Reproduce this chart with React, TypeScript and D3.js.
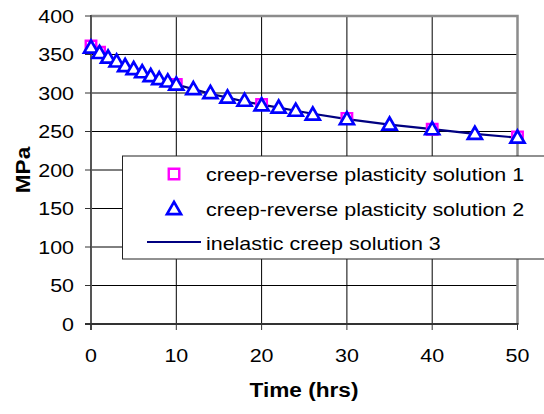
import React, { useEffect, useRef } from 'react'
import * as d3 from 'd3'

// series
const times1 = [0, 1, 10, 20, 30, 40, 50]
const solution1 = [361, 353, 311, 285, 267, 253, 243]

const times2 = [0, 1, 2, 3, 4, 5, 6, 7, 8, 9, 10, 12, 14, 16, 18, 20, 22, 24, 26, 30, 35, 40, 45, 50]
const solution2 = [359, 352, 346, 341, 335, 331, 327, 322, 318, 315, 311, 305, 300, 294, 290, 284, 281, 277, 272, 266, 259, 253, 247, 242]

const times3 = [0, 1, 2, 3, 4, 5, 6, 7, 8, 9, 10, 12, 14, 16, 18, 20, 22, 24, 26, 30, 35, 40, 45, 50]
const solution3 = [359, 352, 346, 340, 335, 330, 326, 322, 318, 314, 311, 305, 299, 294, 289, 285, 281, 277, 273, 266, 259, 253, 247, 242]

const xTicks = [0, 10, 20, 30, 40, 50]
const yTicks = [0, 50, 100, 150, 200, 250, 300, 350, 400]

const legendLabels = [
    'creep-reverse plasticity solution 1',
    'creep-reverse plasticity solution 2',
    'inelastic creep solution 3',
]

const W = 544
const H = 414
const FONT = '"Liberation Sans", Arial, sans-serif'
const STRETCH = 1.16

const App = () => {
    const ref = useRef<SVGSVGElement>(null)

    useEffect(() => {
        const svg = d3.select(ref.current)
        svg.selectAll('*').remove()

        const x = d3.scaleLinear().domain([0, 50]).range([91, 517.5])
        const y = d3.scaleLinear().domain([0, 400]).range([324, 16])

        const text = (tx: number, ty: number, s: string, anchor: string, size = 18.5, bold = false, rot = 0) =>
            svg.append('text')
                .attr('transform', `translate(${tx},${ty})${rot ? ` rotate(${rot})` : ''} scale(${STRETCH},1)`)
                .attr('text-anchor', anchor)
                .attr('font-family', FONT)
                .attr('font-size', size)
                .attr('font-weight', bold ? 'bold' : 'normal')
                .attr('fill', '#000')
                .text(s)

        svg.append('rect').attr('width', W).attr('height', H).attr('fill', '#fff')

        // grid
        svg.selectAll('.hg').data(yTicks.slice(1, -1)).enter().append('line')
            .attr('x1', x(0)).attr('x2', x(50))
            .attr('y1', d => y(d)).attr('y2', d => y(d))
            .attr('stroke', '#000').attr('stroke-width', 1)
        svg.selectAll('.vg').data(xTicks.slice(1, -1)).enter().append('line')
            .attr('x1', d => x(d)).attr('x2', d => x(d))
            .attr('y1', y(0)).attr('y2', y(400))
            .attr('stroke', '#000').attr('stroke-width', 1)

        // plot frame (top and right)
        svg.append('path')
            .attr('d', `M${x(0)},${y(400)}H${x(50)}V${y(0)}`)
            .attr('fill', 'none').attr('stroke', '#8c8c8c').attr('stroke-width', 2.5)

        // axes
        svg.append('line').attr('x1', x(0)).attr('x2', x(0)).attr('y1', y(400) - 1).attr('y2', y(0) + 6)
            .attr('stroke', '#555').attr('stroke-width', 2)
        svg.append('line').attr('x1', x(0) - 6).attr('x2', x(50) + 1).attr('y1', y(0)).attr('y2', y(0))
            .attr('stroke', '#333').attr('stroke-width', 2)
        svg.selectAll('.yt').data(yTicks).enter().append('line')
            .attr('x1', x(0) - 6).attr('x2', x(0))
            .attr('y1', d => y(d)).attr('y2', d => y(d))
            .attr('stroke', '#333').attr('stroke-width', 1)
        svg.selectAll('.xt').data(xTicks).enter().append('line')
            .attr('x1', d => x(d)).attr('x2', d => x(d))
            .attr('y1', y(0)).attr('y2', y(0) + 6)
            .attr('stroke', '#333').attr('stroke-width', 1)

        yTicks.forEach(v => text(74, y(v) + 6.5, String(v), 'end'))
        xTicks.forEach(v => text(x(v), 362, String(v), 'middle'))

        text(304, 396.5, 'Time (hrs)', 'middle', 19.5, true)
        text(30, 170, 'MPa', 'middle', 19.5, true, -90)

        // series 3 line
        const line = d3.line<number>().x((_, i) => x(times3[i])).y(d => y(d))
        svg.append('path').attr('d', line(solution3))
            .attr('fill', 'none').attr('stroke', '#000080').attr('stroke-width', 2.2)

        const square = d3.symbol().type(d3.symbolSquare).size(110)
        const triangle = d3.symbol().type(d3.symbolTriangle).size(85)

        svg.selectAll('.s1').data(solution1).enter().append('path')
            .attr('d', square)
            .attr('transform', (d, i) => `translate(${x(times1[i])},${y(d)})`)
            .attr('fill', '#fff').attr('stroke', '#ff00ff').attr('stroke-width', 2.4)

        svg.selectAll('.s2').data(solution2).enter().append('path')
            .attr('d', triangle)
            .attr('transform', (d, i) => `translate(${x(times2[i])},${y(d) + 1})`)
            .attr('fill', '#fff').attr('stroke', '#0000ff').attr('stroke-width', 2.7)

        // legend
        svg.append('rect').attr('x', 122.5).attr('y', 156).attr('width', 440).attr('height', 103)
            .attr('fill', '#fff').attr('stroke', '#222').attr('stroke-width', 1)
        svg.append('path').attr('d', square).attr('transform', 'translate(174,174)')
            .attr('fill', '#fff').attr('stroke', '#ff00ff').attr('stroke-width', 2.4)
        svg.append('path').attr('d', triangle).attr('transform', 'translate(174,210)')
            .attr('fill', '#fff').attr('stroke', '#0000ff').attr('stroke-width', 2.7)
        svg.append('line').attr('x1', 147).attr('x2', 201).attr('y1', 242).attr('y2', 242)
            .attr('stroke', '#000080').attr('stroke-width', 2.2)
        const baselines = [180.5, 216, 250]
        legendLabels.forEach((l, i) => text(206, baselines[i], l, 'start'))
    }, [])

    return (
        <svg ref={ref} width={W} height={H} style={{ position: 'absolute', left: 0, top: 0 }} />
    )
}

export default App
